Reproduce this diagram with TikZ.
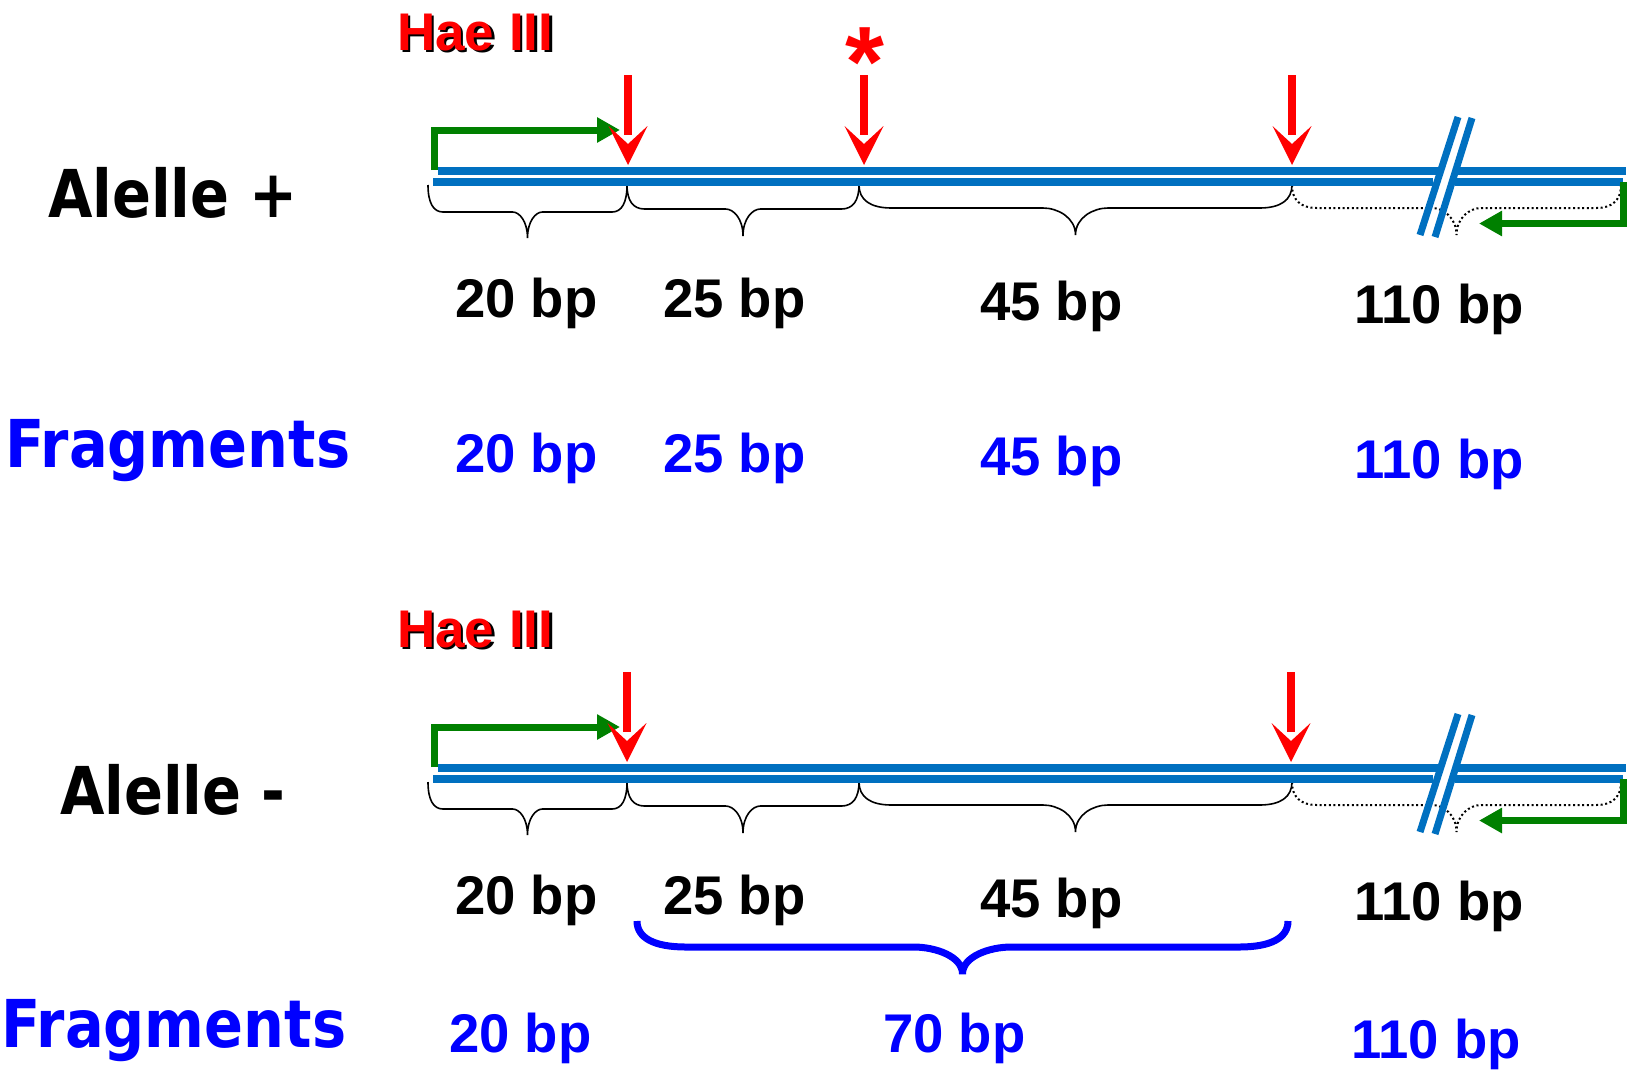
\documentclass[tikz,border=0pt]{standalone}
\usepackage{fontspec}
\usetikzlibrary{arrows.meta}
\newfontfamily\arialfont{Liberation Sans}
\newfontfamily\wideboldfont{DejaVu Sans}[FakeStretch=0.87]
\definecolor{dnablue}{HTML}{0070C0}
\definecolor{primergreen}{HTML}{008000}
\definecolor{textblue}{HTML}{0000FF}

% curly brace under a stretch of DNA: x1, x2, start y, bar y, tip y
\newcommand\fragbrace[6][]{%
  \pgfmathsetmacro\brr{0.075*(#3-#2)}%
  \pgfmathsetmacro\brm{(#2+#3)/2}%
  \draw[#1] (#2,#4) .. controls (#2,{#4+0.65*(#5-#4)}) and ({#2+0.35*\brr},#5) .. ({#2+\brr},#5)
    -- ({\brm-\brr},#5) .. controls ({\brm-0.55*\brr},#5) and (\brm,{#5+0.35*(#6-#5)}) .. (\brm,#6)
    .. controls (\brm,{#5+0.35*(#6-#5)}) and ({\brm+0.55*\brr},#5) .. ({\brm+\brr},#5)
    -- ({#3-\brr},#5) .. controls ({#3-0.35*\brr},#5) and (#3,{#4+0.65*(#5-#4)}) .. (#3,#4);}

\tikzset{
  dna/.style={dnablue, line width=8pt},
  dnacut/.style={dnablue, line width=7pt},
  primer/.style={primergreen, line width=7pt, line join=miter,
    -{Triangle[length=23pt,width=24pt]}},
  fragline/.style={black, line width=1.6pt},
  fragdots/.style={black, line width=2pt, dash pattern=on 2pt off 2.6pt},
  sumbrace/.style={textblue, line width=7pt},
  bplabel/.style={inner sep=0pt, anchor=base west,
    font={\arialfont\bfseries\fontsize{54.5}{60}\selectfont}},
  bpblack/.style={bplabel, text=black},
  bpblue/.style={bplabel, text=textblue},
  allele/.style={inner sep=0pt, anchor=base west, text=black,
    font={\wideboldfont\bfseries\fontsize{66}{72}\selectfont}},
  fraghead/.style={inner sep=0pt, anchor=base west, text=textblue,
    font={\wideboldfont\bfseries\fontsize{66}{70}\selectfont}},
  enzyme/.style={inner sep=0pt, anchor=base west,
    font={\arialfont\bfseries\fontsize{53}{58}\selectfont}},
  star/.style={inner sep=0pt, text=red,
    font={\arialfont\bfseries\fontsize{100}{100}\selectfont}},
  haesite/.pic={
    \fill[red] (-3.6,-90) rectangle (3.6,-30);
    \fill[red] (0,0) -- (-19.5,-39) -- (0,-21) -- (19.5,-39) -- cycle;
  }
}

\begin{document}
\begin{tikzpicture}[x=1pt,y=-1pt]
\useasboundingbox (0,0) rectangle (1633,1074);

% ---------- allele + ----------
\node[enzyme, text=black] (haeAshadow) at (399.5,52.5) {Hae III};
\node[enzyme, text=red] (haeA) at (397,50) {Hae III};

\node[allele] (alleleA) at (48,217) {Alelle +};

\fragbrace[fragline]{428}{627}{185}{212}{238}
\fragbrace[fragline]{627}{859}{185}{209}{236}
\fragbrace[fragline]{859}{1292}{185}{208}{235}
\fragbrace[fragdots]{1292}{1621}{185}{208}{235}

\draw[dna] (438,171) -- (1438,171) (1458,171) -- (1626,171);
\draw[dna] (433,182) -- (1433,182) (1455,182) -- (1623,182);
\draw[dnacut] (1420,235) -- (1458,117) (1435,237) -- (1472,118);

\coordinate (fwdA0) at (434,170);
\coordinate (fwdA1) at (620,130);
\draw[primer] (fwdA0) |- (fwdA1);
\coordinate (revA0) at (1623,182);
\coordinate (revA1) at (1479,223.5);
\draw[primer] (revA0) |- (revA1);

\pic at (628,165) {haesite};
\pic at (864,165) {haesite};
\pic at (1292,165) {haesite};
\node[star] (snpA) at (865,62) {*};

\node[bpblack] (bA1) at (455,317) {20 bp};
\node[bpblack] (bA2) at (663,317) {25 bp};
\node[bpblack] (bA3) at (980,320) {45 bp};
\node[bpblack] (bA4) at (1354,323) {110 bp};

\node[fraghead] (fragA) at (5,467) {Fragments};
\node[bpblue] (fA1) at (455,472) {20 bp};
\node[bpblue] (fA2) at (663,472) {25 bp};
\node[bpblue] (fA3) at (980,475) {45 bp};
\node[bpblue] (fA4) at (1354,478) {110 bp};

% ---------- allele - ----------
\node[enzyme, text=black] (haeBshadow) at (399.5,649.5) {Hae III};
\node[enzyme, text=red] (haeB) at (397,647) {Hae III};

\node[allele] (alleleB) at (60,814) {Alelle -};

\fragbrace[fragline]{428}{627}{782}{809}{835}
\fragbrace[fragline]{627}{859}{782}{806}{833}
\fragbrace[fragline]{859}{1292}{782}{805}{832}
\fragbrace[fragdots]{1292}{1621}{782}{805}{832}

\draw[dna] (438,768) -- (1438,768) (1458,768) -- (1626,768);
\draw[dna] (433,779) -- (1433,779) (1455,779) -- (1623,779);
\draw[dnacut] (1420,832) -- (1458,714) (1435,834) -- (1472,715);

\coordinate (fwdB0) at (434,767);
\coordinate (fwdB1) at (620,727);
\draw[primer] (fwdB0) |- (fwdB1);
\coordinate (revB0) at (1623,779);
\coordinate (revB1) at (1479,820.5);
\draw[primer] (revB0) |- (revB1);

\pic at (627,762) {haesite};
\pic at (1291,762) {haesite};

\node[bpblack] (bB1) at (455,914) {20 bp};
\node[bpblack] (bB2) at (663,914) {25 bp};
\node[bpblack] (bB3) at (980,917) {45 bp};
\node[bpblack] (bB4) at (1354,920) {110 bp};

\fragbrace[sumbrace]{637}{1288}{921}{947}{974}

\node[fraghead] (fragB) at (1,1047) {Fragments};
\node[bpblue] (fB1) at (449,1052) {20 bp};
\node[bpblue] (fB2) at (883,1052) {70 bp};
\node[bpblue] (fB3) at (1351,1058) {110 bp};
\end{tikzpicture}
\end{document}
